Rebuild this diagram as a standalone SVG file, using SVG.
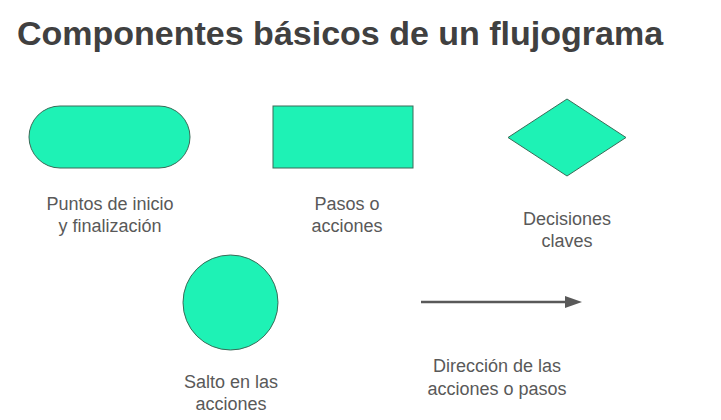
<svg xmlns="http://www.w3.org/2000/svg" width="721" height="420" viewBox="0 0 721 420">
<defs>
<style>
.shape{fill:#1ef2b5;stroke:#3b6b58;stroke-width:1}
.lbl{font-family:"Liberation Sans",Arial,sans-serif;font-size:18px;fill:#595959;text-anchor:middle}
.title{font-family:"Liberation Sans",Arial,sans-serif;font-size:34px;font-weight:bold;fill:#404040}
</style>
</defs>
<rect width="721" height="420" fill="#ffffff"/>
<text class="title" x="17" y="45">Componentes básicos de un flujograma</text>
<g id="terminal">
<rect class="shape" x="29" y="106" width="161" height="62" rx="31" ry="31"/>
<text class="lbl" x="110" y="210">Puntos de inicio</text>
<text class="lbl" x="110" y="232">y finalización</text>
</g>
<g id="process">
<rect class="shape" x="273" y="106" width="140" height="62"/>
<text class="lbl" x="347" y="210">Pasos o</text>
<text class="lbl" x="347" y="232">acciones</text>
</g>
<g id="decision">
<polygon class="shape" points="567,99 626,137.5 567,176 508,137.5"/>
<text class="lbl" x="567" y="225">Decisiones</text>
<text class="lbl" x="567" y="247">claves</text>
</g>
<g id="connector">
<circle class="shape" cx="230.5" cy="302.5" r="47.5"/>
<text class="lbl" x="231" y="388">Salto en las</text>
<text class="lbl" x="231" y="410">acciones</text>
</g>
<g id="connectors">
<line x1="421" y1="302" x2="567" y2="302" stroke="#595959" stroke-width="2.5"/>
<path d="M565,296 L582,302 L565,308 Z" fill="#595959"/>
</g>
<g id="direction-label">
<text class="lbl" x="497" y="372">Dirección de las</text>
<text class="lbl" x="497" y="395">acciones o pasos</text>
</g>
</svg>
